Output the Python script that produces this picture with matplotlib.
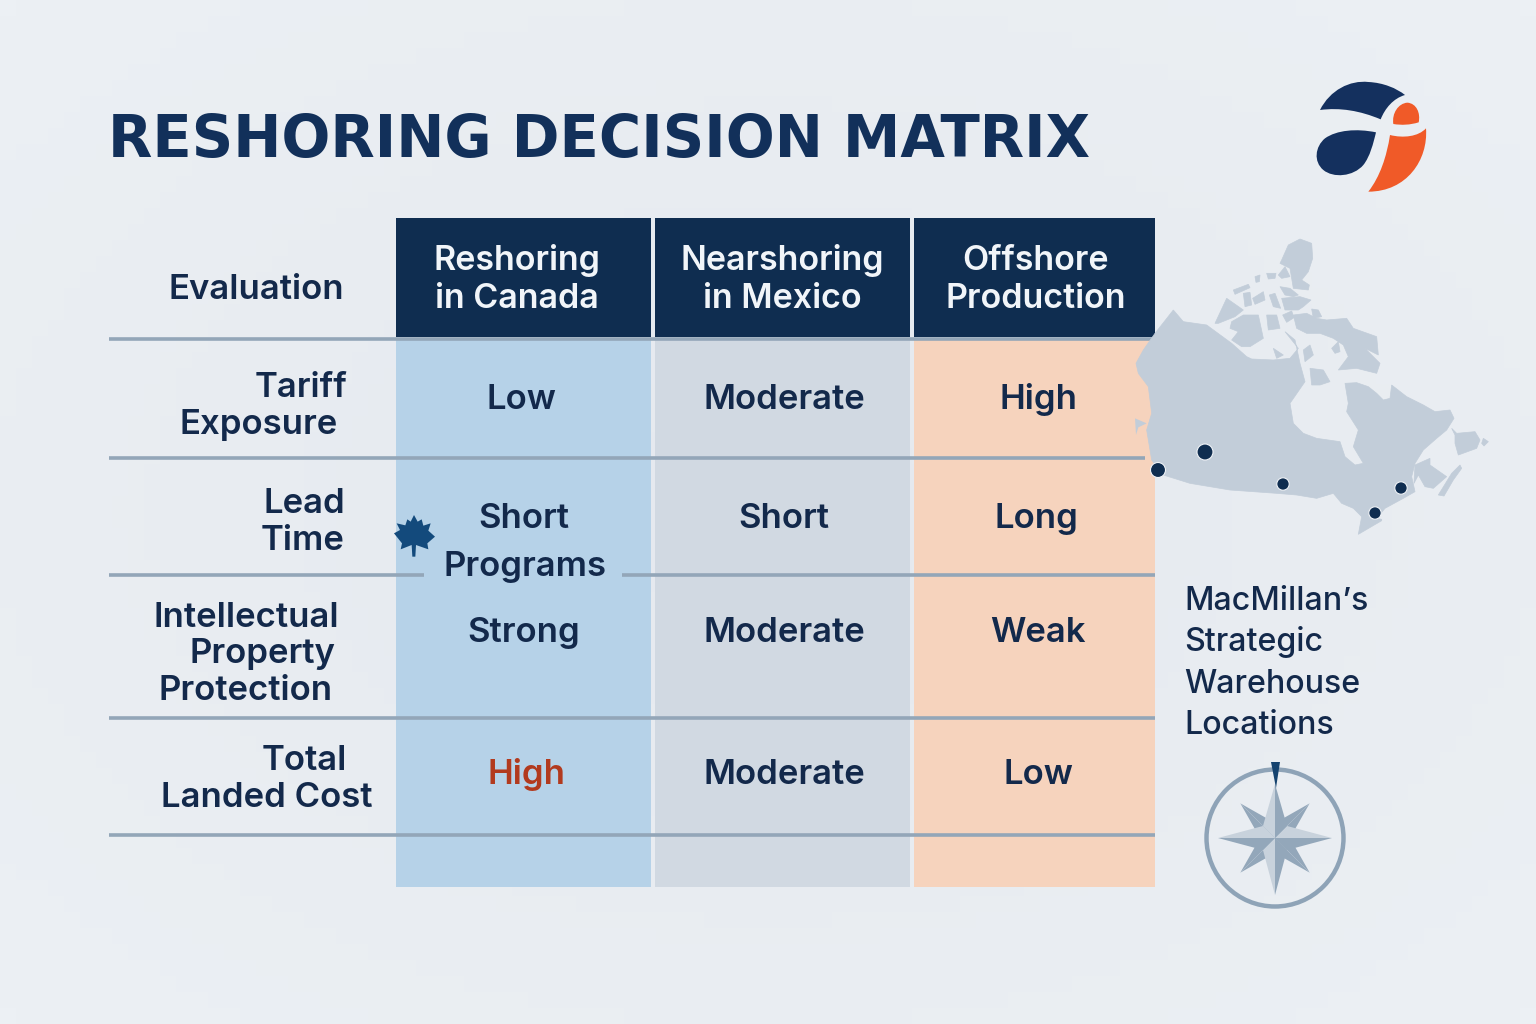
import numpy as np
import matplotlib
matplotlib.use("Agg")
import matplotlib.pyplot as plt
from matplotlib.patches import Rectangle, Polygon, PathPatch, Circle
from matplotlib.path import Path

plt.rcParams['font.family'] = ['Inter', 'DejaVu Sans']

# text content
title = "RESHORING DECISION MATRIX"
corner_label = "Evaluation"
column_labels = [["Reshoring", "in Canada"], ["Nearshoring", "in Mexico"], ["Offshore", "Production"]]
row_labels = [["Tariff", "Exposure"], ["Lead", "Time"], ["Intellectual", "Property", "Protection"], ["Total", "Landed Cost"]]
canada_values = ["Low", "Short", "Strong", "High"]
mexico_values = ["Moderate", "Short", "Moderate", "Moderate"]
offshore_values = ["High", "Long", "Weak", "Low"]
side_note = ["MacMillan\u2019s", "Strategic", "Warehouse", "Locations"]

# colours
NAVY = "#0f2d50"
INK = "#13294b"
LINE = "#93a6b8"
col_fills = ["#b6d2e8", "#d1d9e2", "#f6d3bd"]
MAP = "#c2cdd9"

fig = plt.figure(figsize=(15.36, 10.24), dpi=100)
ax = fig.add_axes([0, 0, 1, 1])
ax.set_xlim(0, 1536)
ax.set_ylim(1024, 0)
ax.axis("off")

# faint background vignette
yy, xx = np.mgrid[0:1:64j, 0:1:96j]
glow = np.hypot(xx - 0.5, yy - 0.5)
ax.imshow(glow, extent=(0, 1536, 1024, 0), cmap=matplotlib.colors.LinearSegmentedColormap.from_list("bg", ["#e5e9ef", "#ecf0f4"]),
          aspect="auto", zorder=0)


def px_text(x, y, s, size, color=INK, weight=600, ha="center", z=8, family=None):
    ax.text(x, y, s, fontsize=size, color=color, fontweight=weight, ha=ha, va="baseline", zorder=z, family=family)


px_text(108, 156.5, title, 41.5, color="#12305a", weight="bold", ha="left", family="DejaVu Sans")

# table columns
col_x = [(396, 651), (655, 910), (914, 1155)]
for (x0, x1), fill in zip(col_x, col_fills):
    ax.add_patch(Rectangle((x0, 340), x1 - x0, 547, fc=fill, ec="none", zorder=1))
    ax.add_patch(Rectangle((x0, 218), x1 - x0, 119, fc=NAVY, ec="none", zorder=2))

# rules
rules = [(339, 109, 1155), (458, 109, 1145), (575, 109, 424), (575, 622, 1155), (718, 109, 1155), (835, 109, 1155)]
for y, x0, x1 in rules:
    ax.plot([x0, x1], [y, y], color=LINE, lw=2.6, solid_capstyle="butt", zorder=3)

# headers
head_x = [517, 782, 1036]
for cx, lines in zip(head_x, column_labels):
    for base, s in zip([270, 308], lines):
        px_text(cx, base, s, 24.5, color="#f1f5f9", weight=600)

# row labels, each line sits on its own centre in the picture
px_text(256, 299, corner_label, 25)
row_x = [[301, 259], [304, 303], [246, 262, 246], [304, 267]]
row_base = [[397, 434], [513, 550], [627, 663, 700], [770, 807]]
for xs, bases, lines in zip(row_x, row_base, row_labels):
    for x, base, s in zip(xs, bases, lines):
        px_text(x, base, s, 25)

# cell values
val_base = [409, 528, 642, 784]
val_x = [[521, 524, 524, 526], [784, 784, 784, 784], [1038, 1036, 1038, 1038]]
for xs, vals in zip(val_x, [canada_values, mexico_values, offshore_values]):
    for x, base, s in zip(xs, val_base, vals):
        color = "#b23a1e" if (s == "High" and x == 526) else INK
        px_text(x, base, s, 25, color=color)
px_text(525, 576, "Programs", 25)

# side note
for base, s in zip([610, 651, 693, 734], side_note):
    px_text(1184.5, base, s, 23.2, weight=500, ha="left")


def zoomed(points, ox, oy, dx=0, dy=0):
    pts = np.array(points, dtype=float) + (dx, dy)
    return np.column_stack([ox + pts[:, 0] / 3, oy + pts[:, 1] / 3])


# Canada map
mainland = [(130, 240), (160, 275), (230, 285), (305, 340), (350, 380), (365, 387), (430, 390), (480, 385),
            (505, 355), (465, 305), (495, 330), (510, 400), (525, 455), (480, 520), (490, 580), (520, 610),
            (560, 625), (630, 635), (645, 680), (675, 705), (700, 700), (670, 650), (685, 600), (650, 545),
            (655, 520), (645, 460), (680, 458), (715, 470), (740, 490), (760, 510), (780, 505), (785, 465),
            (830, 500), (880, 525), (915, 545), (960, 540), (972, 565), (950, 600), (920, 625), (880, 660),
            (855, 700), (845, 740), (855, 785), (820, 805), (765, 835), (740, 865), (755, 868), (755, 872),
            (685, 913), (695, 860), (670, 835), (635, 820), (610, 790), (560, 805), (500, 795), (440, 790),
            (300, 780), (180, 760), (100, 735), (65, 690), (50, 600), (65, 550), (55, 470), (25, 430),
            (18, 400), (40, 360), (75, 310)]
# islands from the north crop, its origin is offset by (240, 15) in map coordinates
north_islands = [
    [(215, 75), (235, 30), (270, 12), (305, 25), (308, 70), (295, 110), (275, 135), (298, 150), (295, 165),
     (250, 160), (245, 130), (240, 100), (210, 85)],
    [(205, 120), (225, 95), (240, 125), (215, 130)],
    [(210, 155), (240, 160), (265, 180), (250, 185), (225, 180)],
    [(215, 190), (270, 185), (303, 195), (280, 215), (265, 225), (225, 225)],
    [(250, 240), (290, 235), (320, 250), (350, 255), (410, 250), (430, 280), (500, 305), (505, 360), (465, 340),
     (510, 385), (500, 415), (440, 400), (385, 405), (415, 365), (400, 330), (370, 310), (330, 295), (290, 295),
     (260, 280)],
    [(15, 265), (50, 190), (100, 225), (75, 245), (25, 265)],
    [(65, 260), (100, 240), (145, 240), (160, 310), (120, 335), (95, 335), (65, 315), (85, 290), (60, 280)],
    [(70, 165), (115, 148), (120, 158), (75, 178)],
    [(100, 175), (120, 172), (125, 210), (105, 215)],
    [(128, 190), (160, 170), (165, 195), (135, 208)],
    [(178, 180), (195, 175), (212, 220), (190, 215)],
    [(135, 125), (150, 120), (148, 140), (138, 142)],
    [(170, 115), (198, 115), (195, 130), (175, 132)],
    [(170, 240), (200, 240), (210, 280), (175, 285)],
    [(218, 240), (245, 228), (252, 248), (230, 262)],
    [(190, 340), (220, 360), (200, 370)],
    [(365, 340), (385, 320), (390, 350), (375, 355)],
    [(300, 400), (340, 405), (360, 440), (330, 450), (305, 450)],
    [(305, 222), (325, 225), (335, 245), (310, 250)],
    [(280, 345), (300, 330), (310, 360), (285, 380)],
]
# islands from the east crop, offset by (630, 420)
east_islands = [
    [(225, 285), (270, 265), (270, 285), (320, 320), (280, 355), (255, 350), (235, 315), (222, 340)],
    [(295, 375), (335, 310), (360, 285), (365, 295), (340, 330), (312, 378)],
    [(335, 175), (350, 190), (405, 185), (420, 210), (410, 235), (355, 255), (345, 220), (345, 195)],
    [(430, 205), (445, 215), (432, 228), (425, 220)],
]
ax.add_patch(Polygon(zoomed(mainland, 1130, 230), closed=True, fc=MAP, ec=MAP, lw=0.5, zorder=4))
for isl in north_islands:
    ax.add_patch(Polygon(zoomed(isl, 1130, 230, 240, 15), closed=True, fc=MAP, ec=MAP, lw=0.5, zorder=4))
for isl in east_islands:
    ax.add_patch(Polygon(zoomed(isl, 1130, 230, 630, 420), closed=True, fc=MAP, ec=MAP, lw=0.5, zorder=4))
ax.add_patch(Polygon(zoomed([(15, 565), (50, 580), (25, 592), (18, 615)], 1130, 230), closed=True, fc=MAP, ec="none", zorder=4))

# warehouse dots
dots = [(1205, 452, 8), (1158, 470, 7.5), (1283, 484, 6.2), (1401, 488, 6.2), (1375, 513, 6.2)]
for x, y, r in dots:
    ax.add_patch(Circle((x, y), r, fc=NAVY, ec="#f0f3f7", lw=0.8, zorder=6))

# logo
M, C4 = Path.MOVETO, Path.CURVE4


def logo_shape(start, segments, color):
    pts, codes = [start], [M]
    for seg in segments:
        pts.extend(seg)
        codes.extend([C4, C4, C4])
    ax.add_patch(PathPatch(Path(zoomed(pts, 1290, 70), codes), fc=color, ec="none", zorder=6))


logo_shape((90, 120), [[(120, 60), (180, 30), (235, 36)], [(280, 38), (320, 55), (345, 75)],
                       [(310, 85), (285, 115), (272, 148)], [(210, 122), (150, 112), (90, 120)]], "#14305e")
logo_shape((258, 187), [[(200, 175), (140, 180), (105, 205)], [(75, 230), (70, 275), (100, 300)],
                        [(130, 325), (190, 320), (220, 285)], [(240, 260), (250, 220), (258, 187)]], "#14305e")
logo_shape((310, 162), [[(305, 130), (325, 100), (352, 98)], [(380, 100), (392, 130), (386, 157)],
                        [(360, 165), (335, 166), (310, 162)]], "#f05a28")
logo_shape((235, 365), [[(270, 320), (290, 260), (300, 195)], [(340, 205), (385, 200), (408, 175)],
                        [(415, 270), (350, 365), (235, 365)]], "#f05a28")

# maple leaf
leaf = [(97, 200), (95, 165), (62, 178), (66, 160), (42, 130), (60, 120), (50, 100), (76, 106), (82, 88), (92, 95),
        (102, 75), (113, 95), (125, 88), (130, 107), (152, 100), (145, 122), (165, 140), (142, 160), (145, 178),
        (108, 165), (106, 200)]
ax.add_patch(Polygon(zoomed(leaf, 380, 490), closed=True, fc="#134a7c", ec="none", zorder=7))

# compass
cx, cy = 1275, 838
ax.add_patch(Circle((cx, cy), 68.5, fc="none", ec="#8ea3b7", lw=3.2, zorder=6))
dark, light = "#93a7ba", "#c8d2dc"
for deg in (45, 135, 225, 315):
    a = np.radians(deg)
    tip = (cx + 49 * np.cos(a), cy + 49 * np.sin(a))
    for side in (-1, 1):
        b = a + side * np.pi / 4
        base = (cx + 15 * np.cos(b), cy + 15 * np.sin(b))
        ax.add_patch(Polygon([(cx, cy), base, tip], closed=True, fc=dark, ec="none", zorder=6))
# length and which flank is the light one, for E, S, W, N
for deg, length, light_side in [(0, 57, -1), (90, 57, 1), (180, 57, 1), (270, 54, -1)]:
    a = np.radians(deg)
    tip = (cx + length * np.cos(a), cy + length * np.sin(a))
    for side in (-1, 1):
        b = a + side * np.pi / 4
        base = (cx + 17 * np.cos(b), cy + 17 * np.sin(b))
        shade = light if side == light_side else dark
        ax.add_patch(Polygon([(cx, cy), base, tip], closed=True, fc=shade, ec="none", zorder=7))
ax.add_patch(Polygon([(1271, 762), (1280, 762), (1276, 788)], closed=True, fc="#15436f", ec="none", zorder=8))

fig.savefig("out.png", dpi=100)
